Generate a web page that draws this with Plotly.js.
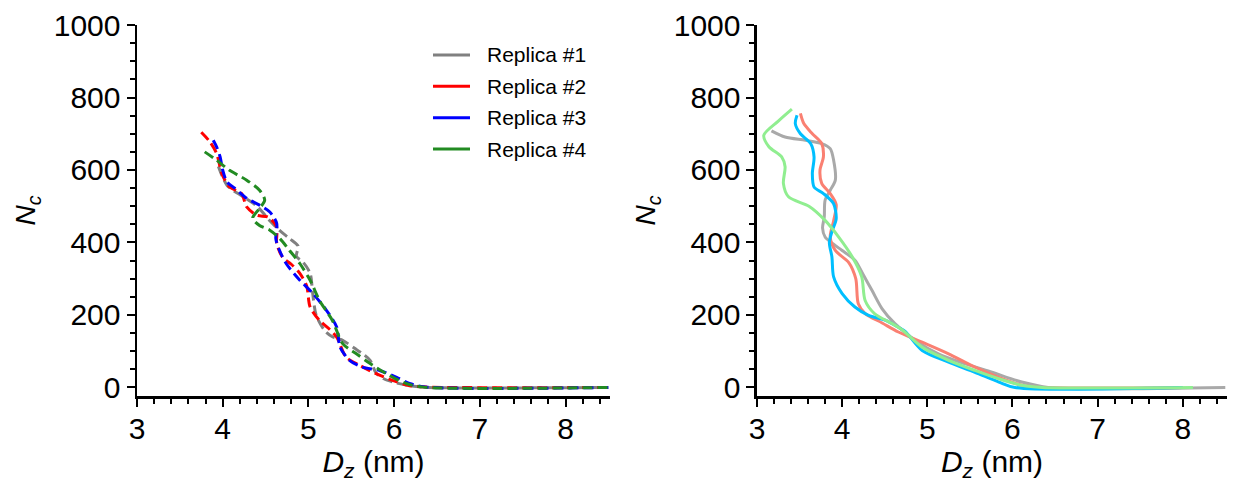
<!DOCTYPE html>
<html>
<head>
<meta charset="utf-8">
<script src="https://cdn.plot.ly/plotly-3.0.1.min.js"></script>
<style>html,body{margin:0;padding:0;background:#fff;}#chart{width:1235px;height:483px;}</style>
</head>
<body>
<div id="chart"></div>
<script>
// ---------- Series names ----------
const seriesNames = ['Replica #1', 'Replica #2', 'Replica #3', 'Replica #4'];

// ---------- Left panel (dashed), N_c vs D_z ----------
const leftRep1X = [3.95, 4.00, 4.05, 4.12, 4.24, 4.40, 4.55, 4.67, 4.78, 4.88, 4.86, 4.94, 5.02, 5.05, 5.09, 5.19, 5.28, 5.40, 5.54, 5.65, 5.72, 5.79, 5.88, 6.00, 6.20, 6.40, 8.50];
const leftRep1Y = [610, 580, 558, 544, 526, 500, 460, 432, 411, 390, 362, 345, 315, 260, 200, 157, 140, 130, 108, 90, 75, 40, 24, 14, 4, 0, 0];

const leftRep2X = [3.75, 3.85, 3.93, 3.99, 4.08, 4.22, 4.28, 4.40, 4.53, 4.63, 4.63, 4.70, 4.80, 4.90, 4.98, 5.02, 5.13, 5.25, 5.33, 5.44, 5.60, 5.79, 5.99, 6.18, 6.41, 8.50];
const leftRep2Y = [704, 678, 645, 590, 553, 535, 498, 475, 470, 443, 398, 359, 340, 315, 280, 222, 185, 160, 139, 84, 61, 38, 19, 5, 1, 0];

const leftRep3X = [3.89, 3.93, 3.97, 4.00, 4.05, 4.14, 4.28, 4.43, 4.55, 4.63, 4.62, 4.66, 4.74, 4.90, 5.05, 5.21, 5.33, 5.37, 5.48, 5.63, 5.83, 6.03, 6.18, 6.38, 8.50];
const leftRep3Y = [682, 663, 636, 600, 567, 550, 522, 503, 484, 453, 410, 380, 342, 296, 260, 213, 167, 111, 75, 56, 47, 28, 11, 1, 0];

const leftRep4X = [3.79, 3.93, 4.08, 4.28, 4.43, 4.49, 4.43, 4.35, 4.43, 4.55, 4.67, 4.78, 4.90, 5.02, 5.13, 5.28, 5.40, 5.56, 5.72, 5.91, 6.14, 6.34, 8.50];
const leftRep4Y = [650, 627, 599, 572, 544, 517, 494, 467, 447, 434, 410, 378, 342, 296, 240, 185, 121, 93, 66, 38, 11, 1, 0];

// ---------- Right panel (solid) ----------
const rightRep1X = [3.17, 3.33, 3.57, 3.76, 3.86, 3.90, 3.92, 3.86, 3.80, 3.79, 3.77, 3.80, 3.90, 4.00, 4.15, 4.25, 4.35, 4.47, 4.62, 4.86, 5.13, 5.45, 5.76, 6.11, 6.42, 8.50];
const rightRep1Y = [708, 691, 682, 673, 659, 627, 572, 544, 517, 470, 440, 415, 395, 378, 351, 310, 268, 217, 176, 130, 93, 65, 42, 15, 0, 0];

const rightRep2X = [3.51, 3.55, 3.65, 3.76, 3.78, 3.74, 3.76, 3.86, 3.93, 3.90, 3.86, 3.92, 4.08, 4.16, 4.19, 4.27, 4.47, 4.66, 4.94, 5.25, 5.56, 5.84, 6.11, 6.31, 8.00];
const rightRep2Y = [756, 728, 700, 673, 636, 600, 563, 535, 505, 460, 415, 378, 344, 300, 231, 204, 178, 153, 125, 93, 56, 28, 6, 0, 0];

const rightRep3X = [3.47, 3.45, 3.51, 3.63, 3.67, 3.65, 3.67, 3.78, 3.90, 3.93, 3.88, 3.85, 3.88, 3.90, 4.00, 4.15, 4.31, 4.51, 4.66, 4.74, 4.94, 5.25, 5.56, 5.84, 6.03, 8.00];
const rightRep3Y = [751, 728, 700, 673, 636, 590, 553, 535, 507, 465, 430, 400, 360, 305, 259, 222, 199, 185, 166, 155, 102, 70, 42, 15, 0, 0];

const rightRep4X = [3.41, 3.25, 3.08, 3.14, 3.29, 3.33, 3.31, 3.37, 3.61, 3.80, 3.96, 4.12, 4.23, 4.27, 4.38, 4.58, 4.70, 4.94, 5.25, 5.56, 5.84, 6.11, 6.35, 8.12];
const rightRep4Y = [768, 735, 696, 664, 636, 609, 563, 526, 500, 461, 415, 360, 305, 240, 204, 177, 160, 111, 75, 47, 24, 6, 0, 0];

const leftColors = ['#808080', '#ff0000', '#0000ff', '#228b22'];
const rightColors = ['#a9a9a9', '#fa8072', '#00bfff', '#90ee90'];

const leftX = [leftRep1X, leftRep2X, leftRep3X, leftRep4X];
const leftY = [leftRep1Y, leftRep2Y, leftRep3Y, leftRep4Y];
const rightX = [rightRep1X, rightRep2X, rightRep3X, rightRep4X];
const rightY = [rightRep1Y, rightRep2Y, rightRep3Y, rightRep4Y];

const FONT = 'Liberation Sans, Arial, sans-serif';
const traces = [];
for (let i = 0; i < 4; i++) {
  traces.push({
    x: leftX[i], y: leftY[i], xaxis: 'x', yaxis: 'y', type: 'scatter', mode: 'lines',
    name: seriesNames[i], showlegend: false,
    line: {color: leftColors[i], width: 3, dash: '10px,5px', shape: 'spline', smoothing: 0.8}
  });
}
for (let i = 0; i < 4; i++) {
  traces.push({
    x: rightX[i], y: rightY[i], xaxis: 'x2', yaxis: 'y2', type: 'scatter', mode: 'lines',
    name: seriesNames[i], showlegend: false,
    line: {color: rightColors[i], width: 3, shape: 'spline', smoothing: 0.8}
  });
}

function xAx(domain, anchor) {
  return {
    domain: domain, anchor: anchor, range: [3, 8.52], dtick: 1, tick0: 3,
    showline: true, linecolor: '#000', linewidth: 2.5, mirror: false,
    ticks: 'outside', ticklen: 8, tickwidth: 2, tickcolor: '#000',
    minor: {ticks: 'outside', dtick: 0.2, ticklen: 5, tickwidth: 2, tickcolor: '#000', showgrid: false},
    showgrid: false, zeroline: false, ticklabelstandoff: -4,
    tickfont: {family: FONT, size: 30, color: '#000'},
    title: {text: '<i>D</i><sub><i>z</i></sub> (nm)', font: {family: FONT, size: 30, color: '#000'}, standoff: 4}
  };
}
function yAx(anchor) {
  return {
    domain: [0, 1], anchor: anchor, range: [-23.5, 1000], dtick: 200, tick0: 0,
    showline: true, linecolor: '#000', linewidth: 2.5, mirror: false,
    ticks: 'outside', ticklen: 8, tickwidth: 2, tickcolor: '#000',
    minor: {ticks: 'outside', dtick: 50, ticklen: 5, tickwidth: 2, tickcolor: '#000', showgrid: false},
    showgrid: false, zeroline: false,
    tickfont: {family: FONT, size: 30, color: '#000'},
    title: {text: '<i>N</i><sub><i>c</i></sub>', font: {family: FONT, size: 28, color: '#000'}, standoff: 10}
  };
}

// ---------- Legend (drawn inside the left panel, solid sample lines) ----------
const PLOT_L = 137, PLOT_W = 1090, PLOT_B = 396, PLOT_H = 371;
const px2x = p => (p - PLOT_L) / PLOT_W;
const px2y = p => (PLOT_B - p) / PLOT_H;
const legendRowsPx = [55, 86.3, 117.7, 149];
const shapes = [], annotations = [];
for (let i = 0; i < 4; i++) {
  shapes.push({type: 'line', xref: 'paper', yref: 'paper',
    x0: px2x(433), x1: px2x(470), y0: px2y(legendRowsPx[i]), y1: px2y(legendRowsPx[i]),
    line: {color: leftColors[i], width: 3}});
  annotations.push({xref: 'paper', yref: 'paper', x: px2x(485), y: px2y(legendRowsPx[i]),
    xanchor: 'left', yanchor: 'middle', showarrow: false, text: seriesNames[i],
    font: {family: FONT, size: 21, color: '#000'}});
}

const layout = {
  width: 1235, height: 483,
  margin: {l: 137, r: 8, t: 25, b: 87},
  paper_bgcolor: '#fff', plot_bgcolor: '#fff',
  font: {family: FONT, color: '#000'},
  xaxis: xAx([0, 0.434], 'y'),
  yaxis: yAx('x'),
  xaxis2: xAx([0.5688, 1], 'y2'),
  yaxis2: yAx('x2'),
  showlegend: false,
  shapes: shapes,
  annotations: annotations
};

Plotly.newPlot('chart', traces, layout, {displayModeBar: false, staticPlot: true});
</script>
</body>
</html>
